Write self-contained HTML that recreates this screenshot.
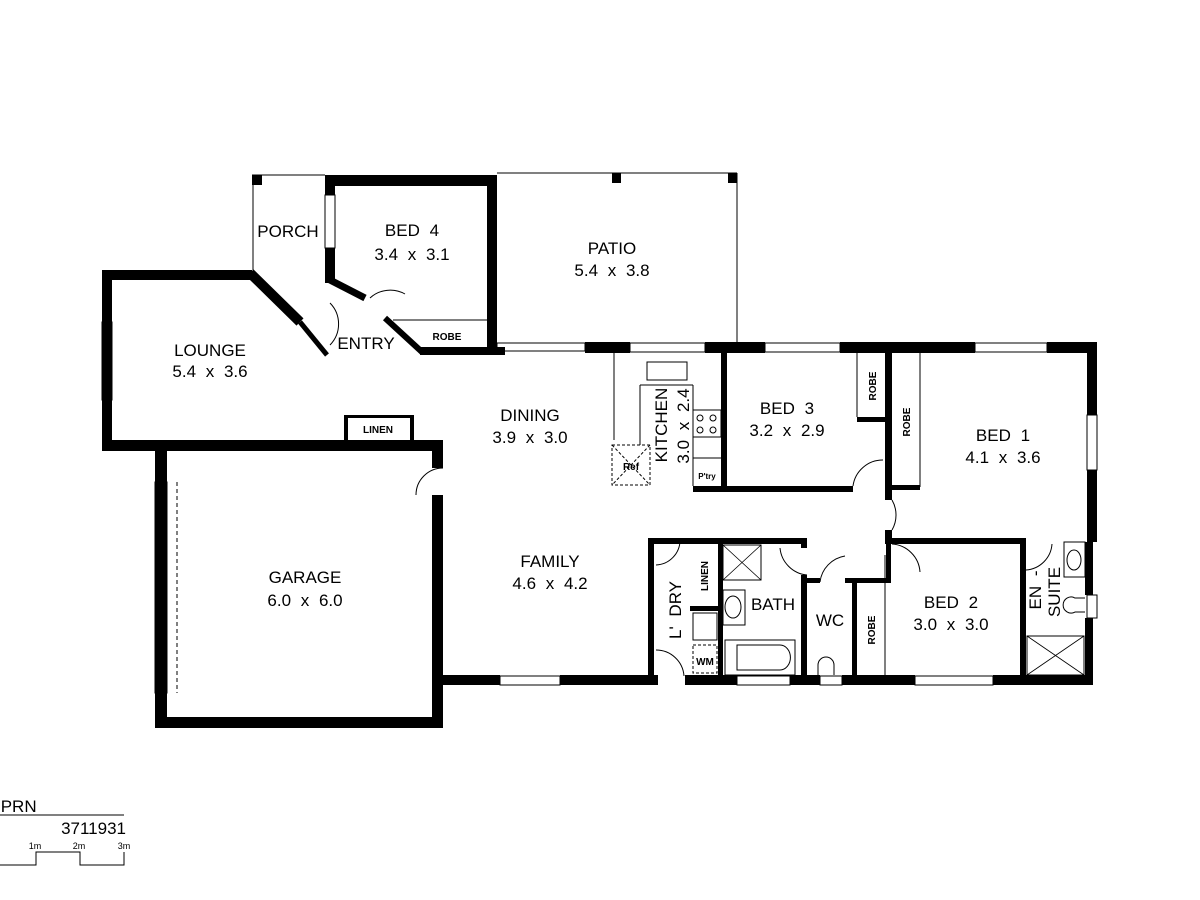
<!DOCTYPE html>
<html><head><style>body{margin:0;background:#fff}svg{display:block}text{font-family:"Liberation Sans",sans-serif;fill:#000}</style></head>
<body>
<svg width="1200" height="900" viewBox="0 0 1200 900" xmlns="http://www.w3.org/2000/svg">
<g fill="#000">
<rect x="102" y="270" width="10" height="180"/>
<rect x="102" y="270" width="150" height="10"/>
<rect x="102" y="440" width="341" height="11"/>
<rect x="155" y="450" width="12" height="278"/>
<rect x="155" y="717" width="288" height="11"/>
<rect x="432" y="440" width="11" height="28"/>
<rect x="432" y="495" width="11" height="233"/>
<rect x="325" y="175" width="172" height="11"/>
<rect x="487" y="175" width="10" height="180"/>
<rect x="325" y="175" width="10" height="20"/>
<rect x="325" y="248" width="10" height="35"/>
<rect x="420" y="347" width="85" height="8"/>
<rect x="252" y="175" width="10" height="10"/>
<rect x="612" y="173" width="9" height="10"/>
<rect x="728" y="173" width="9" height="10"/>
<rect x="585" y="342" width="45" height="11"/>
<rect x="705" y="342" width="60" height="11"/>
<rect x="840" y="342" width="135" height="11"/>
<rect x="1047" y="342" width="50" height="11"/>
<rect x="1087" y="342" width="10" height="73"/>
<rect x="1087" y="470" width="10" height="72"/>
<rect x="1085" y="542" width="8" height="53"/>
<rect x="1085" y="618" width="8" height="67"/>
<rect x="443" y="675" width="57" height="10"/>
<rect x="560" y="675" width="98" height="10"/>
<rect x="685" y="675" width="52" height="10"/>
<rect x="790" y="675" width="30" height="10"/>
<rect x="842" y="675" width="73" height="10"/>
<rect x="993" y="675" width="100" height="10"/>
<rect x="721" y="352" width="6" height="140"/>
<rect x="693" y="486" width="160" height="6"/>
<rect x="885" y="352" width="7" height="138"/>
<rect x="857" y="417" width="28" height="5"/>
<rect x="885" y="485" width="7" height="15"/>
<rect x="885" y="485" width="35" height="5"/>
<rect x="885" y="530" width="7" height="14"/>
<rect x="885" y="538" width="140" height="6"/>
<rect x="1020" y="538" width="6" height="140"/>
<rect x="648" y="538" width="6" height="140"/>
<rect x="648" y="538" width="158" height="6"/>
<rect x="801" y="538" width="6" height="10"/>
<rect x="801" y="575" width="6" height="103"/>
<rect x="718" y="538" width="5" height="140"/>
<rect x="690" y="606" width="30" height="5"/>
<rect x="805" y="578" width="15" height="5"/>
<rect x="845" y="578" width="45" height="5"/>
<rect x="852" y="578" width="5" height="100"/>
<rect x="886" y="544" width="5" height="39"/>
<rect x="410" y="415" width="4" height="27"/>
<rect x="344" y="415" width="4" height="27"/>
<rect x="344" y="415" width="70" height="3"/>
</g>
<g stroke="#000" fill="none" stroke-width="1">
<rect x="630" y="343" width="75" height="9"/>
<rect x="765" y="343" width="75" height="9"/>
<rect x="975" y="343" width="72" height="9"/>
<rect x="1087" y="415" width="10" height="55"/>
<rect x="500" y="676" width="60" height="9"/>
<rect x="737" y="676" width="53" height="9"/>
<rect x="820" y="676" width="22" height="9"/>
<rect x="915" y="676" width="78" height="9"/>
<rect x="325" y="195" width="10" height="53"/>
<line x1="250" y1="273" x2="300" y2="322" stroke-width="10"/>
<line x1="300" y1="322" x2="327" y2="355" stroke-width="5"/>
<line x1="330" y1="280" x2="365" y2="298" stroke-width="7"/>
<line x1="385" y1="318" x2="422" y2="352" stroke-width="6"/>
<line x1="252" y1="175" x2="325" y2="175"/>
<line x1="253" y1="175" x2="253" y2="270"/>
<line x1="497" y1="173" x2="737" y2="173"/>
<line x1="737" y1="173" x2="737" y2="342"/>
<line x1="393" y1="320" x2="487" y2="320"/>
<rect x="497" y="343" width="88" height="8"/>
<rect x="102" y="322" width="10" height="78"/>
<rect x="155" y="482" width="12" height="211"/>
<line x1="177" y1="482" x2="177" y2="693" stroke-dasharray="4,3"/>
<path d="M405 294 A30 30 0 0 0 370 298"/>
<path d="M330 303 A30 30 0 0 1 330 345"/>
<path d="M443 468 A27 27 0 0 0 416 495"/>
<line x1="614" y1="352" x2="614" y2="440"/>
<rect x="612" y="445" width="38" height="40" stroke-dasharray="3,2"/>
<path d="M612 445 L650 485 M650 445 L612 485" stroke-dasharray="3,2"/>
<rect x="647" y="362" width="40" height="18"/>
<line x1="640" y1="385" x2="693" y2="385"/>
<line x1="640" y1="385" x2="640" y2="445"/>
<line x1="693" y1="385" x2="693" y2="486"/>
<rect x="693" y="410" width="28" height="27"/>
<circle cx="700" cy="418" r="3"/><circle cx="713" cy="418" r="3"/><circle cx="700" cy="430" r="3"/><circle cx="713" cy="430" r="3"/>
<line x1="693" y1="458" x2="721" y2="458"/>
<line x1="857" y1="352" x2="857" y2="417"/>
<line x1="920" y1="352" x2="920" y2="487"/>
<line x1="885" y1="555" x2="885" y2="677"/>
<path d="M853 486 A30 30 0 0 1 883 460"/>
<path d="M892 500 A30 30 0 0 1 892 530"/>
<path d="M892 544 A30 30 0 0 1 920 572"/>
<path d="M780 548 A30 30 0 0 0 807 575"/>
<path d="M820 582 A30 30 0 0 1 845 556"/>
<path d="M656 565 A25 25 0 0 0 680 540"/>
<path d="M656 650 A28 28 0 0 1 684 676"/>
<path d="M1026 570 A28 28 0 0 0 1052 544"/>
<rect x="723" y="545" width="38" height="35"/>
<path d="M723 545 L761 580 M761 545 L723 580" stroke-width="0.8"/>
<rect x="723" y="590" width="22" height="35"/>
<ellipse cx="733" cy="607" rx="8" ry="11"/>
<rect x="725" y="640" width="70" height="35"/>
<path d="M737 645 H780 A10 12 0 0 1 780 670 H737 Z"/>
<rect x="693" y="613" width="24" height="27"/>
<rect x="693" y="645" width="24" height="28" stroke-dasharray="3,2"/>
<rect x="1027" y="636" width="57" height="39"/>
<path d="M1027 636 L1084 675 M1084 636 L1027 675" stroke-width="0.8"/>
<rect x="1064" y="542" width="21" height="35"/>
<ellipse cx="1074" cy="560" rx="7" ry="10"/>
<path d="M1085 598 H1075 A8 8 0 1 0 1075 612 H1085"/>
<path d="M818 675 V665 A8 8 0 1 1 834 665 V675"/>
<rect x="1087" y="595" width="10" height="23"/>
<line x1="0" y1="815" x2="124" y2="815"/>
<path d="M0 865 H36 V852 H80 V865 H124 V852"/>
</g>
<g font-size="17" text-anchor="middle" style="word-spacing:5px">
<text x="288" y="237">PORCH</text>
<text x="412" y="236">BED 4</text><text x="412" y="260">3.4 x 3.1</text>
<text x="612" y="254">PATIO</text><text x="612" y="276">5.4 x 3.8</text>
<text x="210" y="356">LOUNGE</text><text x="210" y="377">5.4 x 3.6</text>
<text x="366" y="349">ENTRY</text>
<text x="530" y="421">DINING</text><text x="530" y="443">3.9 x 3.0</text>
<text x="787" y="414">BED 3</text><text x="787" y="436">3.2 x 2.9</text>
<text x="1003" y="441">BED 1</text><text x="1003" y="463">4.1 x 3.6</text>
<text x="550" y="567">FAMILY</text><text x="550" y="589">4.6 x 4.2</text>
<text x="305" y="583">GARAGE</text><text x="305" y="606">6.0 x 6.0</text>
<text x="773" y="610">BATH</text>
<text x="830" y="626">WC</text>
<text x="951" y="608">BED 2</text><text x="951" y="630">3.0 x 3.0</text>
<text transform="translate(667,425) rotate(-90)">KITCHEN</text>
<text transform="translate(689,426) rotate(-90)">3.0 x 2.4</text>
<text transform="translate(681,610) rotate(-90)">L' DRY</text>
<text transform="translate(1041,590) rotate(-90)">EN -</text>
<text transform="translate(1060,592) rotate(-90)">SUITE</text>
</g>
<g font-size="10" font-weight="bold" text-anchor="middle">
<text x="447" y="340">ROBE</text>
<text x="378" y="433">LINEN</text>
<text x="631" y="470">Ref</text>
<text x="707" y="479" font-size="8">P'try</text>
<text transform="translate(876,386) rotate(-90)">ROBE</text>
<text transform="translate(910,422) rotate(-90)">ROBE</text>
<text transform="translate(708,576) rotate(-90)">LINEN</text>
<text x="705" y="665">WM</text>
<text transform="translate(875,630) rotate(-90)">ROBE</text>
</g>
<text x="-4" y="812" font-size="17">IPRN</text>
<text x="126" y="834" font-size="17" text-anchor="end">3711931</text>
<g font-size="9" text-anchor="middle"><text x="35" y="849">1m</text><text x="79" y="849">2m</text><text x="124" y="849">3m</text></g>
</svg>
</body></html>
